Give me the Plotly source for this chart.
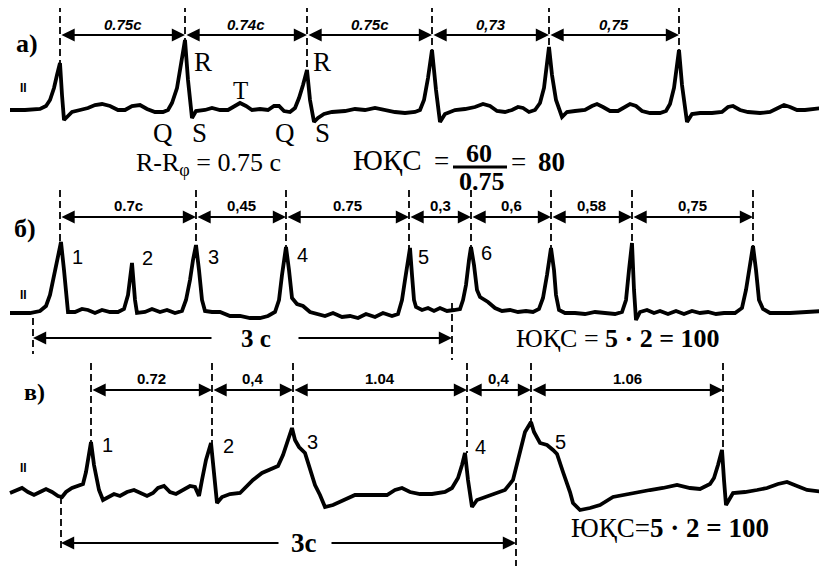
import plotly.graph_objects as go

# ---------------- data (image-pixel units) ----------------
# strip a)
a_peaks_x = [60, 185, 307, 432, 549, 679]
a_peaks_top = [63, 40, 70, 50, 47, 50]
a_intervals = ["0.75c", "0.74c", "0.75c", "0,73", "0,75"]
a_x = [10, 25, 40, 46, 50, 54, 57, 60, 62, 64, 68, 72, 80, 88, 95, 102, 110, 118, 125, 132, 140, 147, 155, 163,
       168, 172, 177, 181, 185, 188, 192, 196, 205, 212, 220, 228, 234, 240, 246, 252, 260, 268, 274, 279, 284,
       290, 295, 299, 303, 307, 310, 314, 318, 324, 332, 345, 355, 365, 375, 385, 395, 405, 415, 420, 424, 428,
       432, 436, 440, 445, 455, 465, 475, 483, 490, 497, 505, 512, 518, 523, 529, 535, 540, 544, 547, 549, 552,
       556, 562, 567, 575, 585, 592, 597, 603, 610, 618, 625, 630, 636, 642, 650, 660, 666, 670, 674, 677, 679,
       682, 684, 687, 692, 700, 712, 722, 728, 733, 740, 748, 760, 770, 778, 784, 790, 797, 805, 815, 823]
a_y = [110, 110, 109, 106, 100, 88, 75, 63, 95, 120, 116, 112, 110, 108, 105, 104, 106, 110, 110, 106, 105, 109,
       112, 112, 110, 103, 88, 65, 40, 80, 118, 111, 110, 108, 110, 110, 106, 103, 106, 110, 109, 110, 106, 106,
       111, 112, 108, 98, 85, 70, 100, 122, 118, 114, 112, 111, 109, 110, 108, 110, 112, 113, 112, 110, 100, 78,
       50, 90, 122, 114, 110, 109, 107, 104, 106, 111, 112, 110, 107, 108, 112, 110, 103, 88, 65, 47, 75, 100,
       117, 112, 111, 110, 106, 104, 107, 111, 111, 107, 104, 106, 111, 113, 113, 111, 104, 88, 68, 50, 85, 100,
       122, 114, 113, 113, 112, 107, 106, 110, 112, 113, 112, 108, 105, 107, 110, 110, 109, 108]

# strip б)
b_peaks_x = [60, 196, 286, 409, 471, 551, 632, 753]
b_peaks_top = [242, 245, 247, 248, 247, 248, 243, 246]
b_intervals = ["0.7c", "0,45", "0.75", "0,3", "0,6", "0,58", "0,75"]
b_x = [10, 30, 40, 46, 50, 54, 58, 61, 64, 68, 75, 82, 88, 95, 102, 110, 118, 124, 128, 132, 135, 137, 145, 152,
       160, 167, 175, 182, 186, 190, 193, 196, 199, 202, 205, 212, 220, 230, 240, 250, 260, 268, 275, 279, 282,
       286, 289, 292, 297, 303, 310, 318, 325, 333, 342, 350, 358, 366, 375, 383, 392, 398, 402, 405, 408, 410,
       412, 414, 416, 422, 428, 434, 440, 447, 454, 460, 463, 466, 469, 471, 474, 477, 480, 488, 495, 502, 510,
       518, 526, 533, 539, 543, 547, 549, 551, 554, 556, 559, 565, 575, 585, 595, 605, 615, 622, 626, 629, 632,
       634, 636, 640, 647, 654, 660, 668, 676, 684, 692, 700, 708, 716, 724, 735, 742, 746, 750, 753, 756, 759,
       763, 770, 790, 810, 823]
b_y = [313, 313, 311, 306, 295, 275, 255, 242, 270, 312, 312, 309, 310, 313, 310, 312, 312, 309, 295, 263, 300,
       313, 312, 309, 312, 310, 313, 311, 300, 280, 260, 245, 270, 300, 311, 312, 312, 316, 316, 318, 318, 316,
       312, 300, 275, 247, 270, 298, 304, 306, 312, 314, 316, 313, 317, 316, 318, 314, 317, 313, 316, 314, 300,
       280, 260, 248, 275, 300, 307, 310, 308, 311, 308, 311, 310, 309, 300, 285, 260, 247, 265, 290, 297, 302,
       308, 311, 310, 312, 311, 312, 309, 298, 275, 260, 248, 270, 295, 310, 313, 313, 314, 312, 313, 314, 312,
       300, 270, 243, 290, 320, 312, 310, 313, 311, 314, 311, 314, 311, 313, 312, 314, 313, 313, 308, 290, 265,
       246, 270, 300, 309, 313, 313, 312, 311]

# strip в)
c_peaks_x = [91, 212, 293, 467, 531, 723]
c_peaks_top = [442, 443, 428, 453, 422, 450]
c_intervals = ["0.72", "0,4", "1.04", "0,4", "1.06"]
c_x = [10, 16, 22, 28, 34, 40, 46, 52, 58, 62, 66, 72, 78, 83, 86, 89, 91, 94, 99, 103, 108, 114, 120, 127, 134,
       140, 147, 153, 158, 164, 170, 176, 183, 190, 195, 199, 202, 206, 211, 214, 217, 222, 230, 240, 253, 262,
       270, 278, 283, 288, 292, 295, 299, 305, 310, 315, 320, 325, 333, 345, 355, 370, 387, 395, 402, 410, 420,
       432, 445, 452, 458, 462, 465, 468, 472, 477, 485, 495, 505, 513, 518, 521, 525, 531, 534, 540, 547, 553,
       557, 563, 567, 570, 573, 580, 590, 600, 613, 633, 650, 663, 677, 690, 700, 710, 714, 718, 722, 724, 726,
       733, 745, 757, 767, 778, 787, 797, 807, 825]
c_y = [493, 490, 488, 492, 495, 492, 489, 492, 496, 497, 492, 488, 486, 484, 472, 455, 442, 465, 490, 500, 497,
       494, 496, 492, 490, 493, 496, 493, 488, 486, 492, 494, 490, 486, 487, 496, 480, 460, 443, 475, 503, 497,
       494, 493, 480, 473, 469, 466, 455, 440, 428, 440, 447, 453, 470, 485, 495, 507, 505, 500, 495, 495, 495,
       490, 488, 492, 494, 494, 492, 488, 478, 465, 453, 480, 507, 500, 497, 493, 490, 480, 460, 445, 432, 422,
       432, 443, 445, 450, 454, 472, 483, 492, 503, 510, 508, 505, 497, 493, 490, 488, 485, 488, 489, 484, 478,
       465, 450, 480, 505, 493, 492, 490, 488, 484, 482, 486, 490, 492]

FONT_SERIF = "Liberation Serif"
FONT_SANS = "Liberation Sans"

fig = go.Figure()

# ---------------- ECG traces ----------------
for xs, ys in [(a_x, a_y), (b_x, b_y), (c_x, c_y)]:
    fig.add_trace(go.Scatter(x=xs, y=ys, mode="lines",
                             line=dict(color="black", width=3.8, shape="linear"),
                             hoverinfo="skip", showlegend=False))

# ---------------- dashed R markers + interval arrows ----------------
def strip_marks(peaks_x, peaks_top, intervals, dash_top, arrow_y, label_y, italic):
    for px, pt in zip(peaks_x, peaks_top):
        fig.add_shape(type="line", x0=px, x1=px, y0=dash_top, y1=pt,
                      line=dict(color="black", width=1.8, dash="7px,4px"))
    for i, lab in enumerate(intervals):
        x0, x1 = peaks_x[i], peaks_x[i + 1]
        fig.add_annotation(x=x1, y=arrow_y, ax=x0, ay=arrow_y, axref="x", ayref="y",
                           xref="x", yref="y", text="", showarrow=True,
                           arrowside="end+start", arrowhead=2, startarrowhead=2,
                           arrowsize=1.2, startarrowsize=1.2, arrowwidth=2.2, arrowcolor="black",
                           standoff=0, startstandoff=0)
        txt_ = f"<b><i>{lab}</i></b>" if italic else f"<b>{lab}</b>"
        fig.add_annotation(x=(x0 + x1) / 2, y=label_y, text=txt_, showarrow=False,
                           font=dict(family=FONT_SANS, size=15, color="black"),
                           xanchor="center", yanchor="middle")

strip_marks(a_peaks_x, a_peaks_top, a_intervals, 5, 35, 24, True)
strip_marks(b_peaks_x, b_peaks_top, b_intervals, 190, 217, 205, False)
strip_marks(c_peaks_x, c_peaks_top, c_intervals, 363, 390, 378, False)

# ---------------- "3 c" brackets ----------------
def bracket(xl, xr, y, gap_l, gap_r, label, tx, dl, dr, fs):
    fig.add_annotation(x=xl, y=y, ax=gap_l, ay=y, axref="x", ayref="y", text="", showarrow=True,
                       arrowhead=2, arrowsize=1.2, arrowwidth=2.2, arrowcolor="black", standoff=0)
    fig.add_annotation(x=xr, y=y, ax=gap_r, ay=y, axref="x", ayref="y", text="", showarrow=True,
                       arrowhead=2, arrowsize=1.2, arrowwidth=2.2, arrowcolor="black", standoff=0)
    fig.add_shape(type="line", x0=xl, x1=xl, y0=dl[0], y1=dl[1],
                  line=dict(color="black", width=1.8, dash="7px,4px"))
    fig.add_shape(type="line", x0=xr, x1=xr, y0=dr[0], y1=dr[1],
                  line=dict(color="black", width=1.8, dash="7px,4px"))
    fig.add_annotation(x=tx, y=y, text=f"<b>{label}</b>", showarrow=False,
                       font=dict(family=FONT_SERIF, size=fs, color="black"),
                       xanchor="center", yanchor="middle")

bracket(33, 452, 338, 213, 297, "3 c", 256, (318, 354), (303, 360), 25)
bracket(61, 516, 543, 280, 330, "3c", 304, (497, 552), (483, 566), 27)

# ---------------- text labels ----------------
def txt(x, y, s, size, family=FONT_SERIF, bold=False, anchor="center"):
    fig.add_annotation(x=x, y=y, text=(f"<b>{s}</b>" if bold else s), showarrow=False,
                       font=dict(family=family, size=size, color="black"),
                       xanchor=anchor, yanchor="middle")

txt(14, 43, "a)", 26, bold=True, anchor="left")
txt(12, 228, "б)", 26, bold=True, anchor="left")
txt(22, 392, "в)", 24, bold=True, anchor="left")
for yy in (88, 295, 468):
    txt(23, yy, "<b>II</b>", 12, family=FONT_SANS)

# wave letters in a)
txt(203, 62, "R", 27)
txt(322, 62, "R", 27)
txt(240, 90, "T", 25)
txt(163, 133, "Q", 27)
txt(199, 133, "S", 27)
txt(285, 133, "Q", 27)
txt(322, 133, "S", 27)

# beat numbers
for (x, y, s) in [(77, 257, "1"), (147, 258, "2"), (213, 257, "3"), (302, 255, "4"),
                  (423, 257, "5"), (486, 253, "6"),
                  (107, 445, "1"), (228, 446, "2"), (312, 442, "3"), (480, 447, "4"), (560, 442, "5")]:
    txt(x, y, s, 20, family=FONT_SANS)

# formulas
txt(208, 164, "R-R<sub>φ</sub> = 0.75 c", 26)
txt(387, 160, "ЮҚС", 29)
txt(441, 161, "=", 27)
txt(479, 153, "<b>60</b>", 26)
txt(482, 181, "<b>0.75</b>", 26)
fig.add_shape(type="line", x0=453, x1=507, y0=167, y1=167, line=dict(color="black", width=3))
txt(518, 162, "=", 27)
txt(551, 162, "<b>80</b>", 27)
txt(514, 338, "ЮҚС = <b>5 · 2 = 100</b>", 26, anchor="left")
txt(569, 528, "ЮҚС=<b>5 · 2 = 100</b>", 27, anchor="left")

# page body keeps an 8 px margin: shift the data window so image pixels land in place
fig.update_xaxes(range=[8, 827], visible=False, fixedrange=True)
fig.update_yaxes(range=[566, 8], visible=False, fixedrange=True)
fig.update_layout(width=819, height=558, margin=dict(l=0, r=0, t=0, b=0),
                  plot_bgcolor="white", paper_bgcolor="white", showlegend=False)

fig.write_html("out.html")
